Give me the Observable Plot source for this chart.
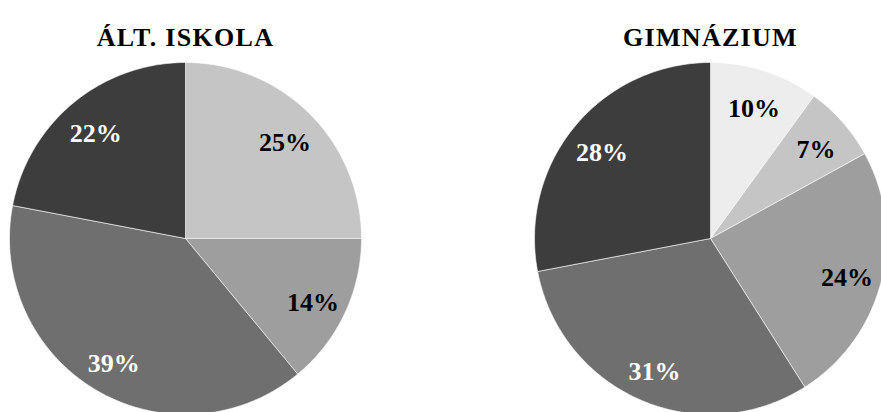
<!DOCTYPE html>
<html><head><meta charset="utf-8">
<script src="https://cdn.jsdelivr.net/npm/d3@7"></script>
<script src="https://cdn.jsdelivr.net/npm/@observablehq/plot@0.6"></script>
<style>
body{margin:0;background:#fff;}
</style></head><body><div id="chart"></div>
<script>
const groups = ["ÁLT. ISKOLA", "GIMNÁZIUM"];
const categories = ["1", "2", "3", "4", "5"];
const altIskolaValues = [0, 25, 14, 39, 22];
const gimnaziumValues = [10, 7, 24, 31, 28];
const shades = ["#ededed", "#c5c5c5", "#9e9e9e", "#6f6f6f", "#3d3d3d"];
const darkLabelCategories = ["1", "2", "3"];

const series = [altIskolaValues, gimnaziumValues];
const slices = [];
groups.forEach((g, gi) => {
  const rows = categories.map((c, i) => ({group: g, category: c, value: series[gi][i]})).filter(d => d.value > 0);
  const arcs = d3.pie().sort(null).value(d => d.value)(rows);
  arcs.forEach(a => slices.push({...a.data, start: a.startAngle, end: a.endAngle, mid: (a.startAngle + a.endAngle) / 2}));
});
const outline = slices.flatMap(s => {
  const n = Math.max(2, Math.ceil((s.end - s.start) / (Math.PI / 180)));
  const pts = [{...s, px: 0, py: 0}];
  for (let k = 0; k <= n; k++) {
    const a = s.start + (s.end - s.start) * k / n;
    pts.push({...s, px: Math.sin(a), py: Math.cos(a)});
  }
  pts.push({...s, px: 0, py: 0});
  return pts;
});

const R = 0.8;
const labelOpts = {
  fx: "group",
  x: d => R * Math.sin(d.mid),
  y: d => R * Math.cos(d.mid),
  text: d => d.value + "%",
  dy: 4,
  fontSize: 26,
  fontWeight: "bold"
};

const chart = Plot.plot({
  width: 881, height: 412,
  marginLeft: 9, marginRight: 0, marginTop: 62, marginBottom: 0,
  fx: {domain: groups, paddingInner: 178 / 525, paddingOuter: 0, round: false, axis: null, label: null},
  x: {domain: [-1, 347 / 176 - 1], axis: null},
  y: {domain: [-174 / 176, 1], axis: null},
  color: {domain: categories, range: shades},
  style: {fontFamily: "'Liberation Serif', 'Times New Roman', serif", background: "#fff"},
  marks: [
    Plot.line(outline, {x: "px", y: "py", z: d => d.group + "|" + d.category, fx: "group", fill: "category", stroke: "#fff", strokeWidth: 0.6, curve: "linear"}),
    Plot.text(slices.filter(d => darkLabelCategories.includes(d.category)), {...labelOpts, fill: "#000"}),
    Plot.text(slices.filter(d => !darkLabelCategories.includes(d.category)), {...labelOpts, fill: "#fff"}),
    Plot.text(groups, {fx: d => d, x: () => 0, frameAnchor: "top", text: d => d, dy: -35, fontSize: 26, fontWeight: "bold", fill: "#000"})
  ]
});
d3.select(chart).selectAll("text").filter(function() { return groups.includes(this.textContent); }).style("letter-spacing", "1.3px");
document.getElementById("chart").appendChild(chart);
</script>
</body></html>
